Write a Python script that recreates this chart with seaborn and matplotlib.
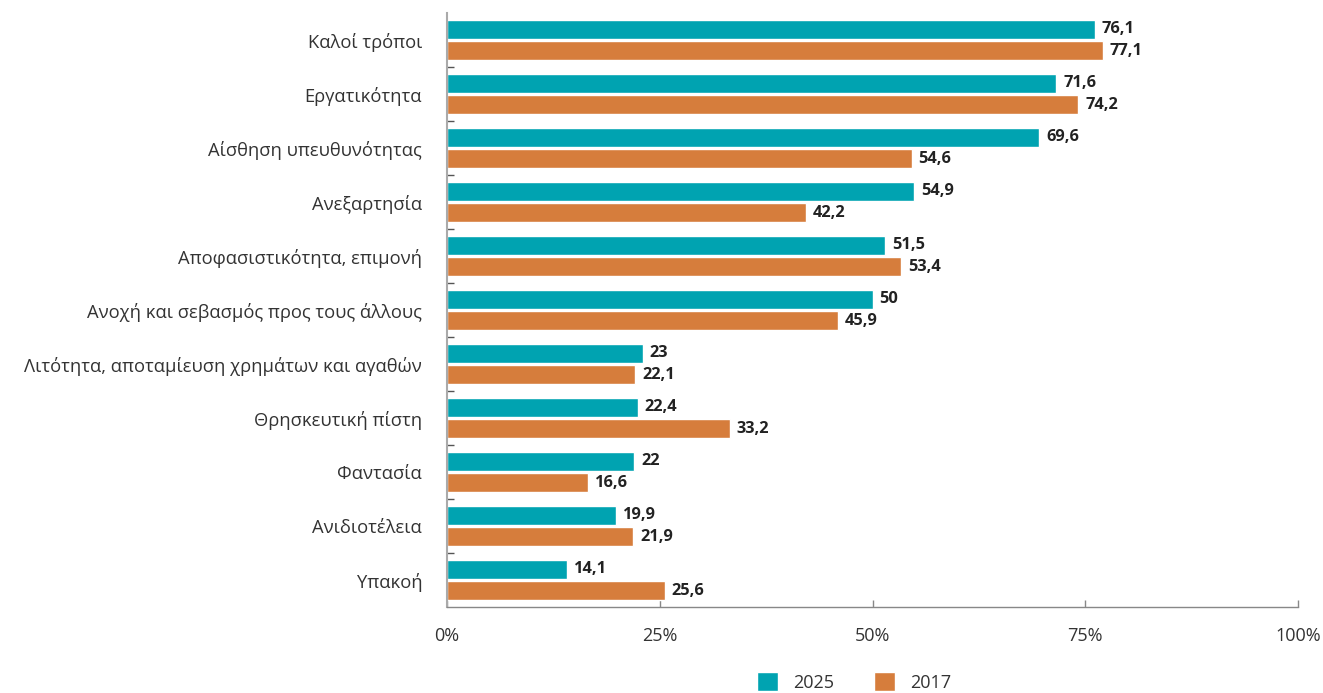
import matplotlib
matplotlib.use("Agg")
import matplotlib.pyplot as plt
import seaborn as sns
import pandas as pd
import numpy as np

# -----------------------------
# DATA
# -----------------------------
categories = [
    "Καλοί τρόποι",
    "Εργατικότητα",
    "Αίσθηση υπευθυνότητας",
    "Ανεξαρτησία",
    "Αποφασιστικότητα, επιμονή",
    "Ανοχή και σεβασμός προς τους άλλους",
    "Λιτότητα, αποταμίευση χρημάτων και αγαθών",
    "Θρησκευτική πίστη",
    "Φαντασία",
    "Ανιδιοτέλεια",
    "Υπακοή",
]
values_2025 = [76.1, 71.6, 69.6, 54.9, 51.5, 50, 23, 22.4, 22, 19.9, 14.1]
values_2017 = [77.1, 74.2, 54.6, 42.2, 53.4, 45.9, 22.1, 33.2, 16.6, 21.9, 25.6]
years = ["2025", "2017"]
x_ticks = [0, 25, 50, 75, 100]

colors = {"2025": "#00A3B1", "2017": "#D67D3C"}

df = pd.DataFrame({
    "category": categories * 2,
    "value": values_2025 + values_2017,
    "year": [years[0]] * len(categories) + [years[1]] * len(categories),
})

sns.set_theme(style="white")
plt.rcParams["font.family"] = ["Open Sans", "Noto Sans", "DejaVu Sans"]

fig = plt.figure(figsize=(13.23, 6.93), dpi=100)
ax = fig.add_axes([0.338, 0.124, 0.643, 0.857])

sns.barplot(
    data=df, x="value", y="category", hue="year", order=categories,
    hue_order=years, palette=colors, orient="h", width=0.8, gap=0.12,
    saturation=1, ax=ax, legend=True,
)

# value labels with Greek decimal comma
for container, vals in zip(ax.containers, [values_2025, values_2017]):
    labels = [f"{v:g}".replace(".", ",") for v in vals]
    ax.bar_label(container, labels=labels, padding=5, fontsize=11.8,
                 fontweight="bold", color="#222222")

ax.set_xlim(0, 100)
ax.set_ylim(len(categories) - 0.5, -0.5)
ax.set_xticks(x_ticks)
ax.set_xticklabels([f"{t}%" for t in x_ticks])
ax.set_xlabel("")
ax.set_ylabel("")

# category boundary ticks on the y axis
ax.set_yticks(np.arange(len(categories) - 1) + 0.5, minor=True)
ax.tick_params(axis="y", which="major", length=0, labelsize=13.2,
               labelcolor="#333333", pad=18)
ax.tick_params(axis="y", which="minor", direction="in", length=5,
               width=1, color="#555555", left=True)
ax.tick_params(axis="x", direction="in", length=5, width=1, color="#888888",
               labelsize=13, labelcolor="#333333", pad=14, bottom=True)

for side in ["top", "right"]:
    ax.spines[side].set_visible(False)
ax.spines["left"].set_color("#AAAAAA")
ax.spines["left"].set_linewidth(1.5)
ax.spines["bottom"].set_color("#888888")
ax.spines["bottom"].set_linewidth(1)

ax.legend(loc="upper center", bbox_to_anchor=(0.478, -0.098), ncol=2,
          frameon=False, fontsize=13, handlelength=1.2, handleheight=1.2,
          columnspacing=2.2, labelcolor="#333333", borderaxespad=0)

fig.savefig("out.png", dpi=100)
